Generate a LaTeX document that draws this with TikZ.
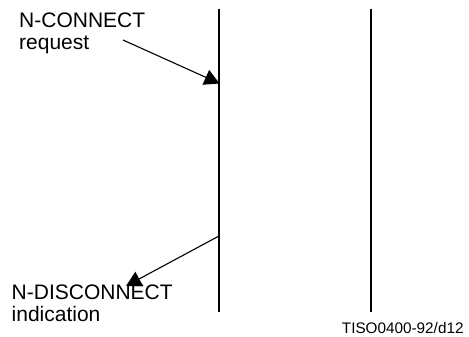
\documentclass[tikz,border=0pt]{standalone}
\usepackage{fontspec}
\setmainfont{Liberation Sans}
\usetikzlibrary{arrows.meta}

\begin{document}
\begin{tikzpicture}[ x = 1pt, y = -1pt,
    axis/.style = {line width = 1.6pt},
    msg/.style  = {line width = 1.1pt, -{Triangle[length = 15pt, width = 16pt]}},
    prim/.style = {anchor = base west, inner sep = 0pt, align = left,
                   font = \fontsize{21}{21.8}\selectfont} ]
    \useasboundingbox (0,0) rectangle (469,337);

    % the two layer boundaries
    \coordinate (Ltop) at (219,9);
    \coordinate (Lbot) at (219,312);
    \coordinate (Rtop) at (371,9);
    \coordinate (Rbot) at (371,312);
    \draw[axis] (Ltop) -- (Lbot);
    \draw[axis] (Rtop) -- (Rbot);

    % primitives
    \node[prim] (conreq) at (19,49.3) {N-CONNECT\\request};
    \node[prim] (disind) at (11.5,321.7) {N-DISCONNECT\\indication};
    \node[anchor = base west, inner sep = 0pt,
          font = \fontsize{15.3}{16}\selectfont] (tag) at (341.7,333.3) {TISO0400-92/d12};

    \coordinate (reqfrom) at (123,40);
    \coordinate (reqto)   at (219.5,83.5);
    \coordinate (indfrom) at (219,236);
    \coordinate (indto)   at (126,286);

    \draw[msg] (reqfrom) -- (reqto);        % request enters the layer
    \draw[msg] (indfrom) -- (indto);        % indication leaves it

\end{tikzpicture}
\end{document}
